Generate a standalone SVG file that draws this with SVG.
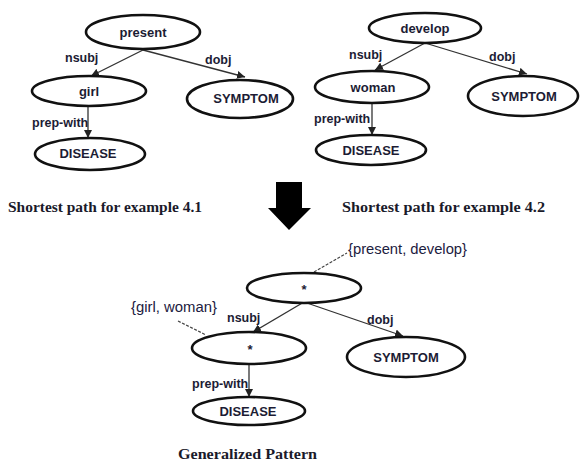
<svg xmlns="http://www.w3.org/2000/svg" width="580" height="462" viewBox="0 0 580 462">
<defs>
<marker id="ah" viewBox="0 0 10 10" refX="10" refY="5" markerWidth="8" markerHeight="8" markerUnits="userSpaceOnUse" orient="auto">
<path d="M0,0 L10,5 L0,10 z" fill="#222"/>
</marker>
</defs>
<style>
.n{fill:#fff;stroke:#111;stroke-width:2.6}
.t{font-family:"Liberation Sans",Arial,sans-serif;font-weight:bold;font-size:13px;fill:#1c1c34;text-anchor:middle;dominant-baseline:central}
.l{font-family:"Liberation Sans",Arial,sans-serif;font-weight:bold;font-size:12.5px;fill:#1c1c34}
.e{stroke:#333;stroke-width:1.3;fill:none;marker-end:url(#ah)}
.d{stroke:#444;stroke-width:1.2;fill:none;stroke-dasharray:3,1.5}
.c{font-family:"Liberation Serif","Times New Roman",serif;font-weight:bold;font-size:15px;fill:#1a1a2a}
.s{font-family:"Liberation Sans",Arial,sans-serif;font-size:14px;fill:#1c2040}
</style>
<rect width="580" height="462" fill="#fff"/>
<g id="connectors">
<line class="e" x1="143" y1="50" x2="91" y2="76"/>
<line class="e" x1="143" y1="50" x2="245" y2="77"/>
<line class="e" x1="88" y1="106" x2="88" y2="138"/>
<line class="e" x1="425" y1="43" x2="375" y2="70"/>
<line class="e" x1="425" y1="43" x2="527" y2="74"/>
<line class="e" x1="372" y1="103" x2="372" y2="135"/>
<line class="e" x1="304" y1="302" x2="253" y2="332"/>
<line class="e" x1="304" y1="302" x2="403" y2="336"/>
<line class="e" x1="249" y1="364" x2="249" y2="397"/>
<line class="d" x1="314" y1="272" x2="347" y2="253"/>
<line class="d" x1="178" y1="321" x2="206" y2="335"/>
</g>
<g id="labels">
<text class="l" x="65" y="62">nsubj</text>
<text class="l" x="205" y="64">dobj</text>
<text class="l" x="32" y="127">prep-with</text>
<text class="l" x="349" y="59">nsubj</text>
<text class="l" x="489" y="61">dobj</text>
<text class="l" x="314" y="123">prep-with</text>
<text class="l" x="227" y="322">nsubj</text>
<text class="l" x="367" y="324">dobj</text>
<text class="l" x="192" y="388">prep-with</text>
</g>
<g id="n-present"><ellipse class="n" cx="143" cy="32" rx="57" ry="17"/><text class="t" x="143" y="32">present</text></g>
<g id="n-girl"><ellipse class="n" cx="89" cy="91" rx="57" ry="15"/><text class="t" x="89" y="91">girl</text></g>
<g id="n-symptom1"><ellipse class="n" cx="240" cy="99" rx="53" ry="19"/><text class="t" x="246" y="98">SYMPTOM</text></g>
<g id="n-disease1"><ellipse class="n" cx="90" cy="154" rx="55" ry="16"/><text class="t" x="88" y="153">DISEASE</text></g>
<g id="n-develop"><ellipse class="n" cx="425" cy="28" rx="56" ry="15"/><text class="t" x="425" y="28">develop</text></g>
<g id="n-woman"><ellipse class="n" cx="372" cy="87" rx="57" ry="16"/><text class="t" x="373" y="87">woman</text></g>
<g id="n-symptom2"><ellipse class="n" cx="523" cy="96" rx="55" ry="20"/><text class="t" x="524" y="96">SYMPTOM</text></g>
<g id="n-disease2"><ellipse class="n" cx="371" cy="150" rx="55" ry="15"/><text class="t" x="371" y="150">DISEASE</text></g>
<g id="n-star1"><ellipse class="n" cx="304" cy="288" rx="57" ry="15"/><text class="t" x="304" y="289">*</text></g>
<g id="n-star2"><ellipse class="n" cx="249" cy="348" rx="57" ry="16"/><text class="t" x="250" y="349">*</text></g>
<g id="n-symptom3"><ellipse class="n" cx="406" cy="357" rx="59" ry="20"/><text class="t" x="406" y="357">SYMPTOM</text></g>
<g id="n-disease3"><ellipse class="n" cx="249" cy="411" rx="56" ry="14"/><text class="t" x="248" y="411">DISEASE</text></g>
<g id="annotations">
<text class="s" x="348" y="254" textLength="119" lengthAdjust="spacingAndGlyphs">{present, develop}</text>
<text class="s" x="131" y="312" textLength="86" lengthAdjust="spacingAndGlyphs">{girl,  woman}</text>
</g>
<g id="arrow"><path d="M276,182 H302 V208 H311 L289,230 L268,208 H276 Z" fill="#000"/></g>
<g id="captions">
<text class="c" x="8" y="212" textLength="194" lengthAdjust="spacingAndGlyphs">Shortest path for example 4.1</text>
<text class="c" x="342" y="212" textLength="203" lengthAdjust="spacingAndGlyphs">Shortest path for example 4.2</text>
<text class="c" x="178" y="459" font-size="16" textLength="139" lengthAdjust="spacingAndGlyphs">Generalized Pattern</text>
</g>
</svg>
